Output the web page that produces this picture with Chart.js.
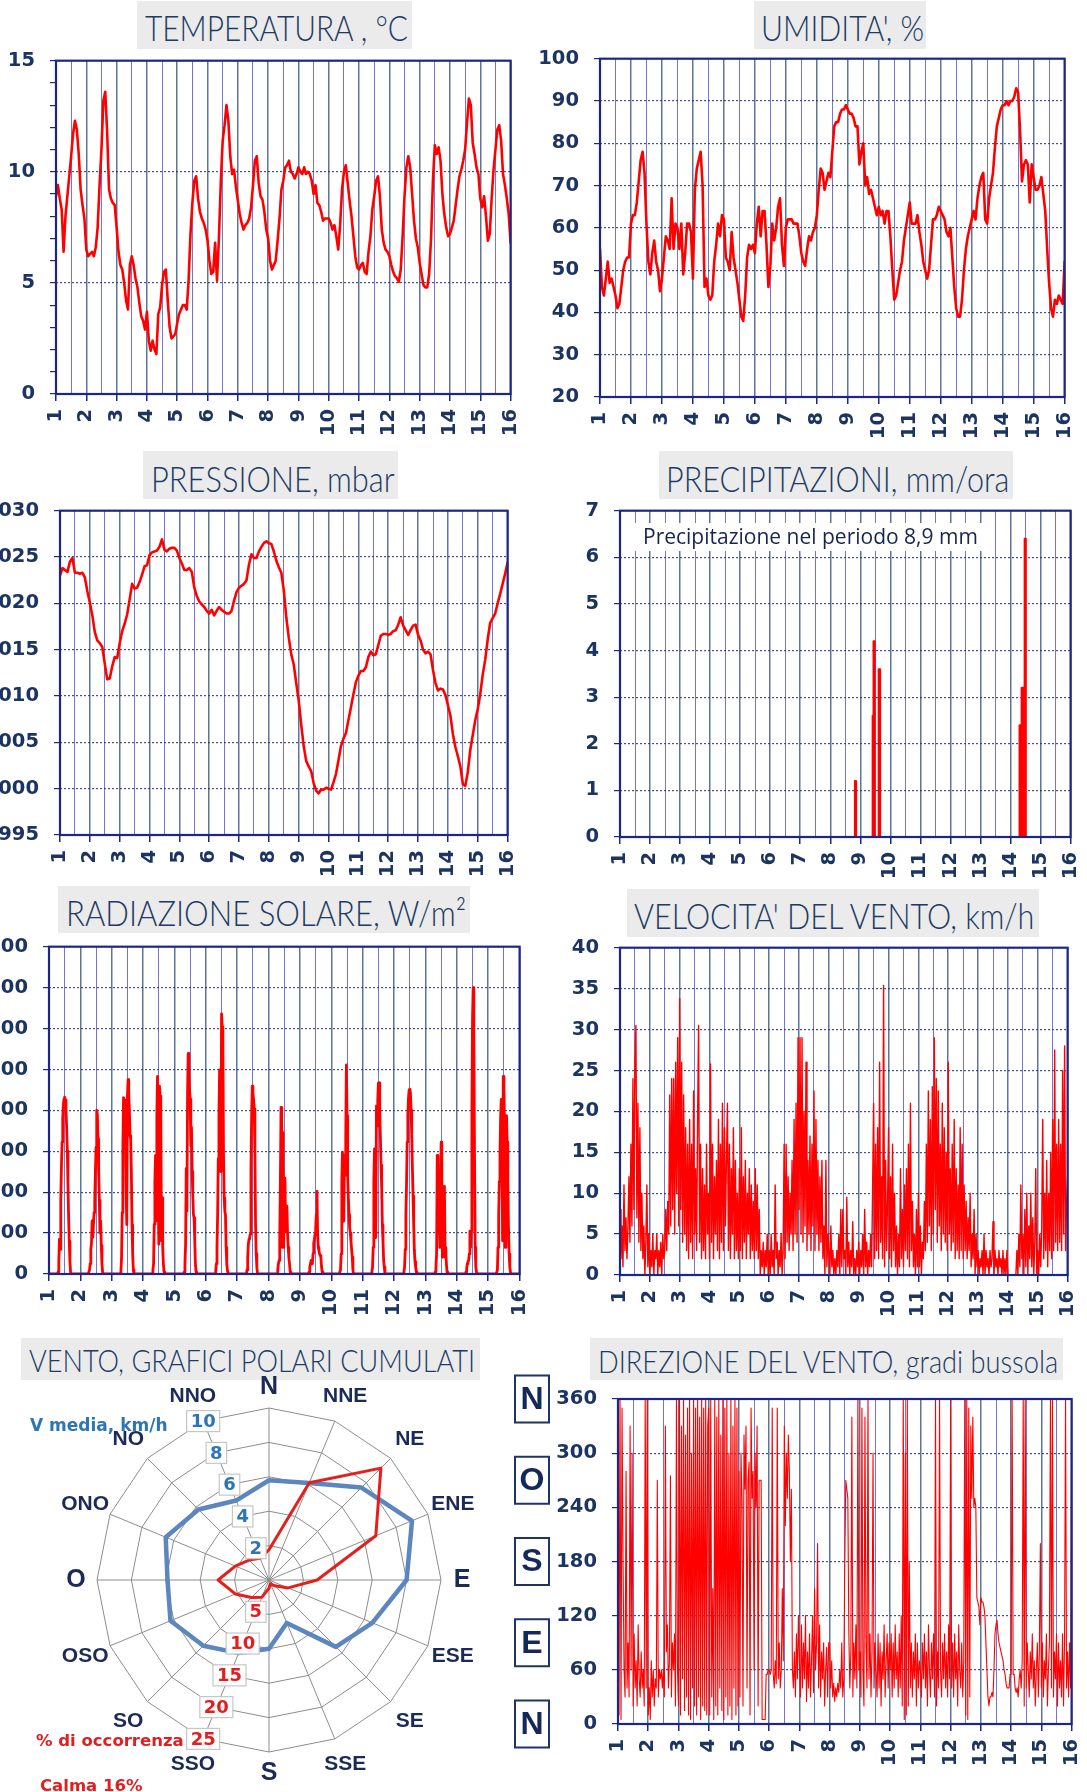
<!DOCTYPE html>
<html lang="it">
<head>
<meta charset="utf-8">
<title>Stazione meteo - andamento di 15 giorni</title>
<script src="https://cdn.jsdelivr.net/npm/chart.js@4.4.1/dist/chart.umd.min.js"></script>
<style>
  html, body { margin: 0; padding: 0; background: #fff; }
  body { position: relative; width: 1087px; height: 1792px; overflow: hidden; }
  canvas { position: absolute; }
  .tbox { position: absolute; background: #ebebeb; }
  .ttext { position: absolute; white-space: nowrap; font-family: 'Lato', 'Roboto', sans-serif; font-weight: 300;
           line-height: 1; color: #203a64; transform-origin: 0 0; }
  .note { position: absolute; white-space: nowrap; line-height: 1; }
</style>
</head>
<body>

<!-- panel titles -->
<div class="tbox" style="left:137px;top:1px;width:275px;height:48px"></div>
<span class="ttext" data-w="263" style="left:145px;top:9px;font-size:36px">TEMPERATURA , °C</span>
<div class="tbox" style="left:754px;top:1px;width:172px;height:48px"></div>
<span class="ttext" data-w="163" style="left:761px;top:9px;font-size:36px">UMIDITA', %</span>
<div class="tbox" style="left:143px;top:451px;width:255px;height:48px"></div>
<span class="ttext" data-w="244" style="left:151px;top:460px;font-size:36px">PRESSIONE, mbar</span>
<div class="tbox" style="left:659px;top:451px;width:354px;height:48px"></div>
<span class="ttext" data-w="343" style="left:666px;top:460px;font-size:36px">PRECIPITAZIONI, mm/ora</span>
<div class="tbox" style="left:58px;top:886px;width:412px;height:47px"></div>
<span class="ttext" data-w="400" style="left:66px;top:895px;font-size:35px">RADIAZIONE SOLARE, W/m²</span>
<div class="tbox" style="left:627px;top:889px;width:412px;height:48px"></div>
<span class="ttext" data-w="400" style="left:634px;top:898px;font-size:35px">VELOCITA' DEL VENTO, km/h</span>
<div class="tbox" style="left:21px;top:1338px;width:459px;height:42px"></div>
<span class="ttext" data-w="446" style="left:29px;top:1345px;font-size:31.5px">VENTO, GRAFICI POLARI CUMULATI</span>
<div class="tbox" style="left:590px;top:1338px;width:473px;height:42px"></div>
<span class="ttext" data-w="460" style="left:598px;top:1346px;font-size:30.5px">DIREZIONE DEL VENTO, gradi bussola</span>

<canvas id="cTemp"></canvas>
<canvas id="cHum"></canvas>
<canvas id="cPress"></canvas>
<canvas id="cRain"></canvas>
<canvas id="cSun"></canvas>
<canvas id="cWind"></canvas>
<canvas id="cRose"></canvas>
<canvas id="cDir"></canvas>

<!-- notes -->
<div class="note" style="left:635px;top:523px;width:355px;height:28px;background:#fff;"></div>
<span class="note" style="left:643px;top:526px;font-family:'Open Sans',sans-serif;font-size:21px;color:#17244f;">Precipitazione nel periodo 8,9 mm</span>
<span class="note" style="left:30px;top:1417px;font-family:'DejaVu Sans',sans-serif;font-weight:700;font-size:17px;color:#2e75b6;">V media, km/h</span>
<span class="note" style="left:36px;top:1733px;font-family:'DejaVu Sans',sans-serif;font-weight:700;font-size:16.5px;color:#e02020;">% di occorrenza</span>
<span class="note" style="left:40px;top:1778px;font-family:'DejaVu Sans',sans-serif;font-weight:700;font-size:16.5px;color:#e02020;">Calma 16%</span>

<script>
// ---------------- measurements (x axis = day of the period, 1..16) ----------------

// air temperature, °C, every 1.5 h
const tempStart = 1, tempStep = 1 / 16;
const temperature = [
  8.9, 9.4, 8.8, 8.3, 6.4, 8.0, 8.9, 9.8, 10.7, 11.7, 12.3, 11.9, 10.8, 9.2, 8.5, 7.9,
  6.5, 6.2, 6.3, 6.4, 6.2, 6.6, 7.5, 9.4, 11.0, 13.2, 13.6, 11.8, 9.2, 8.8, 8.6, 8.5,
  7.5, 6.4, 5.8, 5.6, 5.0, 4.2, 3.8, 5.8, 6.2, 5.8, 5.2, 4.8, 4.1, 3.5, 3.3, 2.9,
  3.7, 2.4, 1.95, 2.4, 2.0, 1.8, 3.6, 3.9, 4.9, 5.5, 5.6, 4.2, 3.0, 2.5, 2.6, 2.7,
  3.2, 3.6, 3.8, 4.0, 4.0, 3.8, 5.1, 7.2, 8.6, 9.6, 9.8, 8.8, 8.2, 7.9, 7.7, 7.4,
  6.9, 6.0, 5.4, 5.5, 6.8, 5.1, 7.0, 9.5, 11.4, 12.1, 13.0, 12.3, 10.7, 9.9, 10.1, 9.3,
  8.7, 8.1, 7.7, 7.4, 7.6, 7.7, 7.9, 8.4, 9.4, 10.5, 10.7, 9.5, 8.9, 8.75, 8.2, 7.4,
  7.0, 6.0, 5.6, 5.8, 6.0, 6.9, 7.9, 9.2, 9.6, 10.2, 10.3, 10.5, 10.0, 9.9, 9.7, 9.9,
  10.2, 10.0, 9.9, 10.2, 9.9, 10.0, 9.9, 9.6, 9.0, 9.4, 8.6, 8.5, 8.2, 7.8, 7.9, 7.9,
  7.9, 7.7, 7.4, 7.6, 7.1, 6.5, 7.6, 9.2, 10.0, 10.3, 9.5, 8.7, 8.0, 7.1, 6.2, 5.7,
  5.6, 5.8, 5.9, 5.5, 5.4, 6.4, 7.1, 8.3, 8.9, 9.6, 9.8, 8.9, 7.4, 6.8, 6.5, 6.4,
  6.2, 5.8, 5.5, 5.3, 5.2, 5.05, 5.6, 7.1, 8.9, 10.2, 10.7, 10.2, 9.0, 7.8, 7.0, 6.6,
  5.9, 5.4, 4.9, 4.8, 4.8, 5.4, 7.0, 9.6, 11.2, 10.8, 11.1, 10.5, 9.0, 8.1, 7.5, 7.1,
  7.2, 7.5, 7.8, 8.5, 9.2, 9.8, 10.1, 10.5, 11.0, 12.2, 13.3, 13.0, 11.3, 10.8, 10.2, 9.9,
  8.8, 8.4, 8.9, 8.0, 6.9, 7.2, 8.8, 10.1, 11.0, 11.9, 12.1, 11.4, 9.9, 9.4, 8.8, 8.1,
  6.8
];

// relative humidity, %, every 1.5 h
const humStart = 1, humStep = 1 / 16;
const humidity = [
  55, 46, 44, 48, 52, 47, 48, 46, 44, 41, 42, 46, 50, 52, 53, 53,
  61, 63, 63, 66, 71, 76, 78, 73, 61, 52, 49, 54, 57, 52, 50, 45,
  48, 53, 58, 57, 55, 67, 55, 61, 60, 55, 61, 49, 54, 61, 61, 59,
  48, 69, 74, 76, 78, 70, 46, 48, 44, 43, 44, 52, 56, 61, 58, 63,
  62, 53, 52, 50, 59, 53, 50, 47, 43, 39, 38, 44, 53, 56, 55, 56,
  54, 61, 65, 58, 64, 64, 56, 46, 51, 61, 57, 60, 65, 67, 56, 51,
  60, 62, 62, 62, 61, 61, 61, 58, 54, 52, 51, 55, 58, 57, 59, 60,
  63, 69, 74, 73, 69, 71, 73, 72, 78, 84, 85, 85, 87, 88, 88, 89,
  88, 87, 87, 86, 84, 84, 75, 78, 80, 70, 72, 68, 69, 67, 65, 63,
  65, 63, 64, 61, 64, 64, 58, 50, 43, 44, 47, 50, 52, 57, 60, 63,
  66, 61, 61, 61, 63, 59, 56, 52, 50, 48, 50, 56, 62, 62, 63, 65,
  64, 63, 62, 59, 58, 60, 53, 46, 41, 39, 39, 43, 50, 55, 58, 60,
  62, 64, 62, 67, 70, 72, 73, 62, 61, 67, 70, 73, 79, 84, 86, 88,
  89, 89, 90, 89, 90, 90, 91, 93, 92, 83, 71, 75, 76, 75, 66, 75,
  72, 69, 69, 70, 72, 68, 64, 55, 47, 41, 39, 43, 42, 44, 43, 42,
  52
];

// station pressure, mbar, every 2 h
const pressStart = 1, pressStep = 1 / 12;
const pressure = [
  1023.0, 1023.8, 1023.6, 1023.4, 1024.5, 1024.9, 1023.3, 1023.3, 1023.2, 1023.3, 1022.8, 1021.3,
  1020.1, 1018.7, 1016.9, 1016.0, 1015.7, 1015.3, 1013.5, 1011.8, 1011.9, 1013.2, 1014.2, 1014.1,
  1015.7, 1017.0, 1017.8, 1018.8, 1020.4, 1022.1, 1021.6, 1021.7, 1022.3, 1023.1, 1024.0, 1024.1,
  1025.2, 1025.5, 1025.6, 1025.7, 1026.1, 1026.9, 1025.8, 1025.6, 1025.9, 1026.0, 1026.0, 1025.7,
  1024.9, 1024.3, 1023.6, 1023.6, 1023.8, 1023.4, 1021.7, 1020.8, 1020.2, 1019.9, 1019.6, 1019.2,
  1018.9, 1019.3, 1018.7, 1019.2, 1019.6, 1019.3, 1019.1, 1018.9, 1018.9, 1019.2, 1020.3, 1021.2,
  1021.7, 1021.9, 1022.1, 1022.5, 1024.2, 1025.3, 1024.9, 1024.9, 1025.6, 1026.1, 1026.5, 1026.7,
  1026.5, 1026.4, 1025.6, 1024.6, 1023.9, 1023.3, 1021.4, 1018.5, 1016.3, 1014.5, 1013.4, 1011.4,
  1009.5, 1006.9, 1004.6, 1003.0, 1002.4, 1001.9, 1000.6, 999.8, 999.5, 999.9, 999.9, 1000.1,
  1000.0, 999.9, 1000.7, 1001.6, 1003.1, 1004.6, 1005.4, 1006.0, 1007.4, 1008.8, 1010.2, 1011.5,
  1012.2, 1012.7, 1012.7, 1013.1, 1014.2, 1014.8, 1014.4, 1014.5, 1015.5, 1016.5, 1016.7, 1016.7,
  1016.6, 1016.7, 1017.0, 1017.1, 1017.7, 1018.5, 1017.6, 1017.1, 1016.6, 1017.1, 1017.6, 1017.7,
  1016.6, 1016.0, 1015.0, 1014.6, 1014.8, 1014.5, 1012.8, 1011.4, 1010.6, 1010.8, 1010.7, 1010.1,
  1009.0, 1007.9, 1005.9, 1004.5, 1003.5, 1002.4, 1000.5, 1000.3, 1001.8, 1004.2, 1005.8, 1007.4,
  1008.6, 1010.2, 1012.3, 1013.9, 1016.1, 1017.9, 1018.4, 1018.9, 1020.0, 1021.0, 1022.1, 1023.2,
  1024.4
];

// rain rate, mm/h: each rate holds until the next listed time
const rainTimes = [1, 8.82, 8.86, 9.41, 9.44, 9.48, 9.61, 9.66, 14.30, 14.345, 14.37, 14.47, 14.51, 16];
const rainRates = [0, 1.2, 0, 2.6, 4.2, 0, 3.6, 0, 2.4, 2.2, 3.2, 6.4, 0, 0];

// solar radiation, W/m², half-hourly from 06:00 to 18:00 of each day (night = 0)
const solarDawn = 0.25, solarStep = 1 / 48;
const solarDay01 = [0,0,5,30,85,60,180,260,322,380,415,428,432,425,400,360,300,220,140,80,30,5,0,0,0];
const solarDay02 = [0,0,10,25,60,75,130,90,120,150,180,250,310,400,390,330,250,180,100,130,70,25,5,0,0];
const solarDay03 = [0,0,5,40,150,300,431,425,419,360,200,121,435,475,440,400,338,330,250,120,50,10,0,0,0];
const solarDay04 = [0,0,0,10,25,121,226,290,130,387,483,226,73,459,435,419,81,186,65,25,5,0,0,0,0];
const solarDay05 = [0,0,0,5,25,73,258,154,443,539,499,451,427,314,359,250,194,145,137,81,25,5,0,0,0];
const solarDay06 = [0,0,0,5,25,65,145,282,387,499,322,250,636,604,572,290,186,154,145,65,25,9,0,0,0];
const solarDay07 = [0,0,0,10,40,73,85,90,97,258,387,459,443,427,403,306,121,49,17,0,0,0,0,0,0];
const solarDay08 = [0,0,10,25,33,81,226,407,145,65,346,65,226,234,105,145,166,97,65,40,25,5,0,0,0];
const solarDay09 = [0,0,5,17,25,33,30,25,50,75,85,97,113,145,202,97,65,57,49,45,41,17,5,0,0];
const solarDay10 = [0,0,10,49,226,298,145,129,290,242,330,511,387,242,186,145,113,100,81,60,41,9,0,0,0];
const solarDay11 = [0,0,5,17,65,226,306,145,89,411,362,427,467,467,403,338,266,210,120,81,33,17,0,0,0];
const solarDay12 = [0,0,0,5,17,60,140,220,322,390,430,450,452,443,400,340,258,190,120,57,30,17,5,0,0];
const solarDay13 = [0,0,0,5,17,49,290,145,100,170,65,226,322,145,41,178,145,214,41,65,25,5,0,0,0];
const solarDay14 = [0,0,5,13,25,30,33,49,105,65,105,387,628,700,600,300,65,17,5,0,0,0,0,0,0];
const solarDay15 = [0,0,9,65,145,226,290,387,427,306,81,483,467,346,65,306,387,322,226,113,49,17,5,0,0];
const solarDays = [solarDay01, solarDay02, solarDay03, solarDay04, solarDay05, solarDay06, solarDay07, solarDay08,
                   solarDay09, solarDay10, solarDay11, solarDay12, solarDay13, solarDay14, solarDay15];

// wind speed, km/h, every 48 min
const windStart = 1, windStep = 1 / 30;
const windSpeed = [
  8,2,6,1,11,3,7,2,6,12,4,16,6,24,8,26,30.5,7,21,4,18,3,10,2,6,0,4,11,1,5,
  0,3,1,5,0,3,2,5,0,3,1,4,0,5,2,3,8,3,9,5,22,6,24,8,24,5,26,10,29,6,
  33.8,8,26,4,22,5,18,3,16,2,19,4,16,2,22.5,5,13,3,19,30.5,4,16,2,13,3,11,2,16,5,10,
  2,25.8,4,16,2,12,5,14,3,19,2,16,4,21,3,18,6,14,21,3,16,2,13,5,18,2,14,3,10,2,
  13,3,18,2,12,4,14,2,10,5,13,2,11,3,9,2,13,3,11,2,8,0,3,1,4,0,3,1,5,0,
  3,0,5,1,3,0,11,2,4,0,3,1,5,0,3,16,2,16,4,12,3,10,5,14,3,19,5,21,4,29,
  8,29,5,29,4,20,6,26,3,14,5,17,3,16,6,22.5,3,19,5,14,3,12,4,14,2,6,0,14,1,5,
  3,0,6,1,3,0,2,0,3,1,5,0,8,1,8,2,3,0,9.5,1,4,0,3,1,6.5,0,2,0,3,1,
  4,0,3,1,5,0,8,1,4,0,3,1,5,1,11,21,2,16,3,18,2,26,4,12,2,35.4,1,14,3,9,
  18,2,12,1,16,3,10,1,6,0,5,1,13,2,8,1,11,3,13,2,16,1,21,3,9,1,5,0,8,1,
  10,1,6,0,4,2,9,3,16,4,22.5,6,19,3,23,5,29,8,24,4,22.5,6,16,3,21,5,18,4,15,3,
  26,5,13,3,16,4,19,2,13,3,11,2,18,3,16,2,11,3,9,2,7,3,10,1,5,2,8,0,5,1,
  3,0,2,1,3,0,5,0,3,1,2,0,3,1,2,6.5,0,3,1,2,0,3,1,2,0,3,0,2,0,3,
  0,0,0,0,0,0,0,0,0,3,0,5,1,11,2,5,0,8,1,10,0,6,2,10,1,7,0,4,13,0,
  3,0,5,1,6,19,2,10,3,14,1,10,3,15,2,19,3,27.5,4,16,3,19,4,16,3,25,5,28,3,9,
  12
];

// wind direction, compass degrees, every 48 min
const windDirection = [
  200,10,360,5,350,180,60,30,280,40,90,30,330,60,300,20,100,40,70,20,110,50,30,80,40,60,20,360,40,360,
  10,40,5,70,30,60,20,50,40,270,30,60,50,60,40,60,30,330,80,110,40,70,275,30,90,60,100,20,360,60,
  20,360,10,330,50,360,15,320,30,350,10,360,5,300,40,360,20,350,10,360,30,340,5,360,20,350,15,360,10,330,
  350,10,360,30,150,5,360,20,340,10,360,40,320,15,360,5,350,30,360,10,300,20,360,5,330,40,360,10,350,20,
  280,30,300,250,20,320,260,330,40,270,290,10,350,250,280,60,300,240,330,20,270,270,270,5,5,5,5,55,55,60,
  60,55,60,350,55,40,70,45,350,50,90,40,60,150,70,330,220,300,250,320,280,180,260,60,40,80,30,100,50,120,
  70,30,110,40,90,50,120,25,80,40,100,30,70,120,35,150,60,90,200,40,110,30,80,50,90,20,60,85,30,90,
  90,40,70,30,45,25,40,30,45,35,60,40,90,30,50,180,270,260,250,100,40,80,340,30,90,50,110,40,360,60,
  80,30,350,60,20,340,90,40,360,50,100,30,80,300,40,90,60,30,100,40,90,20,80,50,110,30,70,100,40,90,
  60,100,30,90,40,110,50,80,30,100,40,120,20,360,5,300,10,360,20,180,40,90,30,80,50,100,20,90,40,70,
  60,30,90,50,100,40,80,20,110,60,30,90,50,100,30,360,20,80,40,360,60,30,90,50,100,40,80,30,110,50,
  360,40,90,30,100,50,80,20,110,60,40,90,30,70,360,10,360,5,350,30,330,250,340,240,250,240,140,135,130,110,
  140,135,135,130,120,90,60,30,20,30,30,35,30,60,100,110,115,100,90,85,80,75,70,60,55,45,40,40,40,55,
  55,360,55,55,40,35,40,30,50,60,40,70,360,20,360,40,90,60,30,80,50,100,40,70,20,60,90,30,80,200,
  40,90,30,70,50,100,20,60,90,360,40,360,30,80,50,100,20,90,40,70,30,100,20,90,360,40,80,30,90,40,
  360
];
const headingValues = [360, 270, 180, 90, 0];
const headingLetters = ['N', 'O', 'S', 'E', 'N'];

// wind rose: 16 sectors clockwise from north
const compassPoints = ['N','NNE','NE','ENE','E','ESE','SE','SSE','S','SSO','SO','OSO','O','ONO','NO','NNO'];
const windMeanSpeed = [5.8, 6.1, 7.6, 9.0, 8.0, 6.5, 5.5, 2.7, 4.0, 4.6, 5.4, 6.2, 5.9, 6.5, 5.8, 5.0];
const windOccurrence = [4.4, 15.3, 23.0, 16.8, 7.0, 3.0, 1.2, 0.6, 1.2, 2.7, 3.6, 5.3, 7.4, 5.3, 4.1, 3.4];
const meanSpeedTicks = [2, 4, 6, 8, 10];
const occurrenceTicks = [5, 10, 15, 20, 25];

// ---------------- helpers ----------------
const series = (start, step, values) => values.map((v, i) => ({ x: start + i * step, y: v }));
const pairs = (xs, ys) => xs.map((x, i) => ({ x, y: ys[i] }));

const solarPoints = [{ x: 1, y: 0 }];
solarDays.forEach((vals, d) => vals.forEach((v, j) => solarPoints.push({ x: 1 + d + solarDawn + j * solarStep, y: v })));
solarPoints.push({ x: 16, y: 0 });

const RED = '#ff0000';
const TICK_TEXT = '#1b3462';
const GRID_DAY = '#5f7499', GRID_HALFDAY = '#7676d2', GRID_LEVEL = 'rgba(38,52,112,0.85)', FRAME = '#1b2787';
const TICK_FONT = { family: "'DejaVu Sans', Verdana, sans-serif", size: 19.5, weight: 'bold' };
const whole = c => c.tick && Number.isInteger(c.tick.value);

const framePlugin = {
  id: 'frame',
  afterDatasetsDraw(chart) {
    const { ctx, chartArea: a } = chart;
    ctx.save();
    ctx.strokeStyle = FRAME;
    ctx.lineWidth = 2.2;
    ctx.strokeRect(a.left, a.top, a.right - a.left, a.bottom - a.top);
    ctx.restore();
  }
};

// compass letters beside the direction axis
const headingPlugin = {
  id: 'headingBoxes',
  afterDraw(chart) {
    const { ctx, chartArea: a } = chart;
    const ys = chart.scales.y;
    ctx.save();
    ctx.font = "bold 32px 'Liberation Sans', Arial, sans-serif";
    ctx.textAlign = 'center';
    ctx.textBaseline = 'middle';
    headingValues.forEach((v, i) => {
      const cy = ys.getPixelForValue(v), cx = a.left - 86;
      ctx.fillStyle = '#fff';
      ctx.fillRect(cx - 17, cy - 23.5, 34, 47);
      ctx.strokeStyle = '#1d3563';
      ctx.lineWidth = 2;
      ctx.strokeRect(cx - 17, cy - 23.5, 34, 47);
      ctx.fillStyle = '#14295a';
      ctx.fillText(headingLetters[i], cx, cy + 1);
    });
    ctx.restore();
  }
};

function timeChart(id, plot, y, datasets, extra = {}) {
  const yAxisW = extra.yAxisW || 70, padTop = extra.padTop || 22, padRight = 26, xAxisH = 52;
  const canvas = document.getElementById(id);
  canvas.width = yAxisW + (plot.r - plot.l) + padRight;
  canvas.height = padTop + (plot.b - plot.t) + xAxisH;
  canvas.style.left = (plot.l - yAxisW) + 'px';
  canvas.style.top = (plot.t - padTop) + 'px';
  const levelVisible = v => v > y.min && v < y.max && !(y.every && v % y.every);
  return new Chart(canvas, {
    type: 'line',
    data: { datasets },
    options: {
      responsive: false, animation: false, events: [],
      layout: { padding: { left: 0, top: padTop, right: padRight, bottom: 0 } },
      plugins: { legend: { display: false }, tooltip: { enabled: false } },
      elements: { point: { radius: 0 }, line: { tension: 0, borderJoinStyle: 'round', borderCapStyle: 'round' } },
      scales: {
        x: {
          type: 'linear', min: 1, max: 16,
          afterFit: s => { s.height = xAxisH; },
          ticks: { stepSize: 0.5, autoSkip: false, minRotation: 90, maxRotation: 90, padding: 8,
                   color: TICK_TEXT, font: TICK_FONT, callback: v => Number.isInteger(v) ? String(v) : '' },
          grid: { drawTicks: true, tickLength: 7, tickWidth: 1.5,
                  tickColor: c => whole(c) ? FRAME : 'transparent',
                  color: c => whole(c) ? GRID_DAY : GRID_HALFDAY, lineWidth: c => whole(c) ? 1.5 : 1 },
          border: { display: false }
        },
        y: {
          type: 'linear', min: y.min, max: y.max,
          afterFit: s => { s.width = yAxisW; },
          ticks: { stepSize: y.step, autoSkip: false, padding: 15, color: TICK_TEXT, font: TICK_FONT,
                   callback: v => (y.every && v % y.every) ? '' : String(v) },
          grid: { color: c => (c.tick && levelVisible(c.tick.value)) ? GRID_LEVEL : 'transparent',
                  tickColor: FRAME, tickLength: 6, lineWidth: 1.2 },
          border: { display: false, dash: [2, 2] }
        }
      }
    },
    plugins: [framePlugin, ...(extra.plugins || [])]
  });
}

const redLine = (data, width) => ({ data, borderColor: RED, backgroundColor: RED, borderWidth: width, fill: false });

timeChart('cTemp', { l: 56, t: 56, r: 516, b: 394 }, { min: 0, max: 15, step: 1, every: 5 },
  [redLine(series(tempStart, tempStep, temperature), 2.6)]);
timeChart('cHum', { l: 600, t: 54, r: 1070, b: 397 }, { min: 20, max: 100, step: 10 },
  [redLine(series(humStart, humStep, humidity), 2.6)]);
timeChart('cPress', { l: 60, t: 506, r: 513, b: 835 }, { min: 995, max: 1030, step: 5 },
  [redLine(series(pressStart, pressStep, pressure), 2.6)]);
timeChart('cRain', { l: 620, t: 506, r: 1076, b: 837 }, { min: 0, max: 7, step: 1 },
  [Object.assign(redLine(pairs(rainTimes, rainRates), 2), { stepped: true, fill: 'origin' })]);
timeChart('cSun', { l: 49, t: 942, r: 525, b: 1274 }, { min: 0, max: 800, step: 100 },
  [redLine(solarPoints, 2.8)]);
timeChart('cWind', { l: 620, t: 943, r: 1073, b: 1275 }, { min: 0, max: 40, step: 5 },
  [redLine(series(windStart, windStep, windSpeed), 1.4)]);
timeChart('cDir', { l: 618, t: 1399, r: 1077, b: 1724 }, { min: 0, max: 360, step: 60 },
  [redLine(series(windStart, windStep, windDirection), 1.1)], { yAxisW: 110, padTop: 40, plugins: [headingPlugin] });

// ---------------- wind rose ----------------
function tickBoxes(ctx, scale, index, values, color) {
  ctx.font = "bold 18px 'DejaVu Sans', sans-serif";
  values.forEach(v => {
    const p = scale.getPointPositionForValue(index, v);
    const txt = String(v);
    const w = ctx.measureText(txt).width + 8, h = 21;
    ctx.fillStyle = 'rgba(255,255,255,0.96)';
    ctx.fillRect(p.x - w / 2, p.y - h / 2, w, h);
    ctx.strokeStyle = '#c6c6c6';
    ctx.lineWidth = 1.2;
    ctx.strokeRect(p.x - w / 2, p.y - h / 2, w, h);
    ctx.fillStyle = color;
    ctx.fillText(txt, p.x, p.y + 1);
  });
}

const roseLabels = {
  id: 'roseLabels',
  afterDraw(chart) {
    const { ctx } = chart;
    const r = chart.scales.r, r2 = chart.scales.r2;
    ctx.save();
    ctx.textAlign = 'center';
    ctx.textBaseline = 'middle';
    ctx.fillStyle = '#1b2a57';
    compassPoints.forEach((name, i) => {
      const big = name.length === 1;
      const p = r.getPointPosition(i, r.drawingArea + (big ? 21 : 27));
      ctx.font = big ? "bold 25px 'Liberation Sans', Arial, sans-serif" : "bold 21px 'Liberation Sans', Arial, sans-serif";
      ctx.fillText(name, p.x, p.y);
    });
    tickBoxes(ctx, r, 15, meanSpeedTicks, '#2e75b6');
    tickBoxes(ctx, r2, 9, occurrenceTicks, '#e02020');
    ctx.restore();
  }
};

(function () {
  const canvas = document.getElementById('cRose');
  canvas.width = 540; canvas.height = 432;
  canvas.style.left = '0px'; canvas.style.top = '1360px';
  new Chart(canvas, {
    type: 'radar',
    data: {
      labels: compassPoints,
      datasets: [
        { data: windOccurrence, rAxisID: 'r2', borderColor: '#e3201b', borderWidth: 3, fill: false, order: 0 },
        { data: windMeanSpeed, rAxisID: 'r', borderColor: '#5b86c0', borderWidth: 4.5, fill: false, order: 1 }
      ]
    },
    options: {
      responsive: false, animation: false, events: [],
      layout: { padding: { left: 97, right: 99, top: 48, bottom: 40 } },
      plugins: { legend: { display: false }, tooltip: { enabled: false } },
      elements: { point: { radius: 0 }, line: { tension: 0, borderJoinStyle: 'round' } },
      scales: {
        r: { type: 'radialLinear', min: 0, max: 10, ticks: { display: false, stepSize: 2 },
             pointLabels: { display: false },
             grid: { circular: false, color: '#8d8d8d', lineWidth: 1 },
             angleLines: { color: '#8d8d8d', lineWidth: 1 } },
        r2: { type: 'radialLinear', axis: 'r', min: 0, max: 25, ticks: { display: false, stepSize: 5 },
              pointLabels: { display: false }, grid: { display: false }, angleLines: { display: false } }
      }
    },
    plugins: [roseLabels]
  });
})();

// squeeze each title to its box width
function fitTitles() {
  document.querySelectorAll('.ttext').forEach(el => {
    el.style.transform = 'none';
    const w = el.offsetWidth;
    if (w) el.style.transform = 'scaleX(' + (parseFloat(el.dataset.w) / w) + ')';
  });
}
fitTitles();
if (document.fonts && document.fonts.ready) document.fonts.ready.then(fitTitles);
</script>
</body>
</html>
